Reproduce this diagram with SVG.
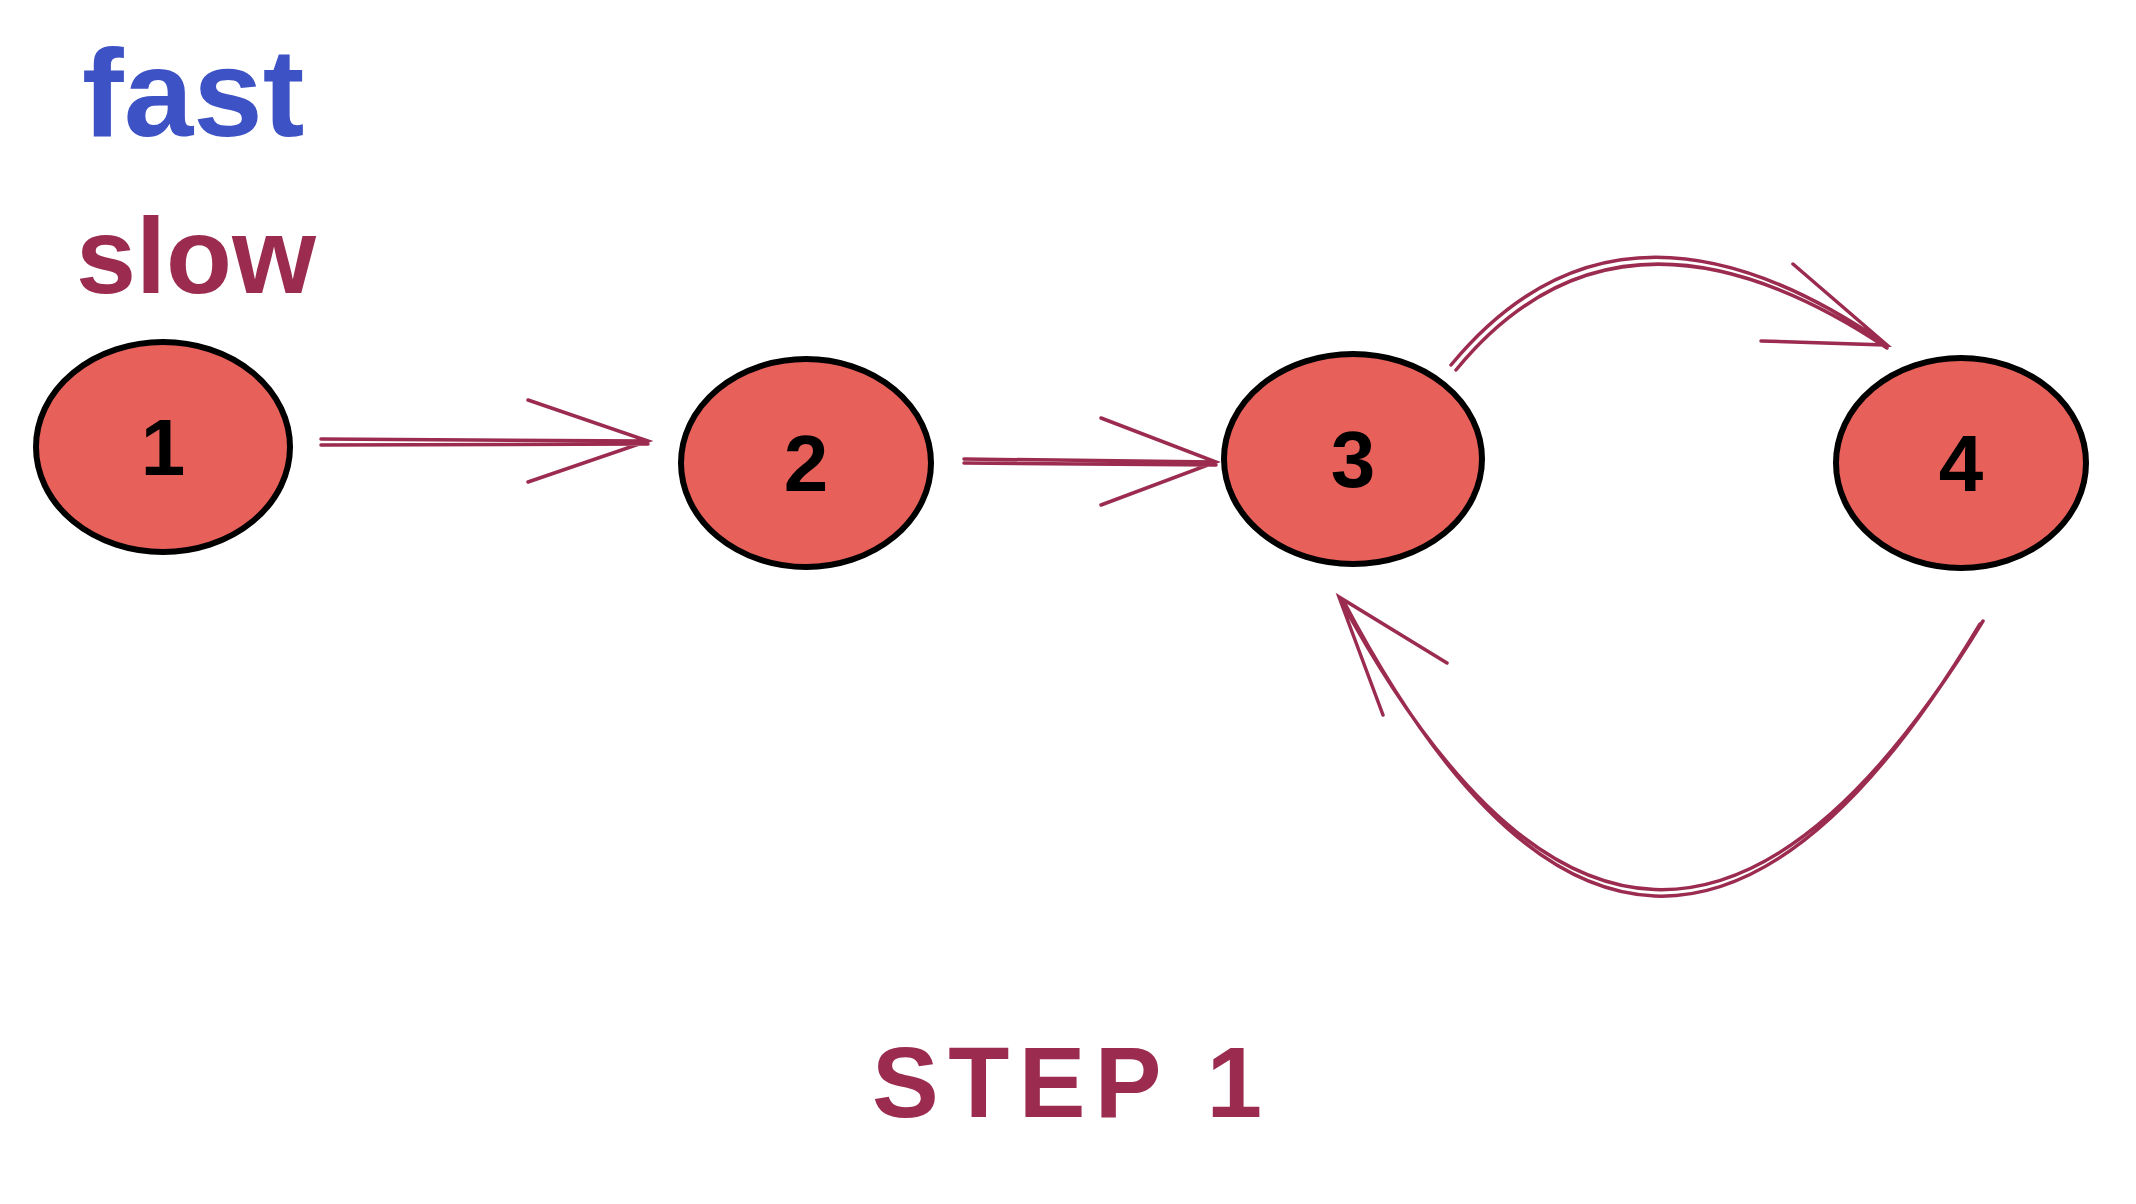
<svg xmlns="http://www.w3.org/2000/svg" width="2136" height="1204" viewBox="0 0 2136 1204">
<style>
.n{fill:#e8605a;stroke:#000;stroke-width:6}
.t{font-family:"Liberation Sans",sans-serif;font-size:80px;font-weight:bold;text-anchor:middle;fill:#000}
.c{fill:none;stroke:#9b2c50;stroke-width:3.5;stroke-linecap:round}
</style>
<rect width="2136" height="1204" fill="#fff"/>
<text x="82" y="136" font-family="Liberation Sans,sans-serif" font-size="125" font-weight="bold" fill="#3d52c4">fast</text>
<text x="76" y="293" font-family="Liberation Sans,sans-serif" font-size="108" font-weight="bold" fill="#9b2c50">slow</text>
<g id="n1"><ellipse class="n" cx="163" cy="447" rx="127" ry="105"/><text class="t" x="163" y="475">1</text></g>
<g id="n2"><ellipse class="n" cx="806" cy="463" rx="125" ry="104"/><text class="t" x="806" y="491">2</text></g>
<g id="n3"><ellipse class="n" cx="1353" cy="459" rx="129" ry="105"/><text class="t" x="1353" y="487">3</text></g>
<g id="n4"><ellipse class="n" cx="1961" cy="463" rx="125" ry="105"/><text class="t" x="1961" y="491">4</text></g>
<g id="connectors">
<path class="c" d="M321 439 L648 441 M321 445 L648 444 M528 400 L648 441 L528 482"/>
<path class="c" d="M964 459 L1216 462 M964 463 L1216 465 M1101 418 L1216 462 L1101 505"/>
<path class="c" d="M1451 365 Q1620 160 1887 345 M1456 370 Q1620 170 1887 348 M1793 264 L1887 345 L1761 341"/>
<path class="c" d="M1983 621 Q1648 1170 1339 597 M1980 624 Q1648 1180 1343 600 M1447 663 L1339 597 L1383 715"/>
</g>
<text x="872" y="1117" font-family="Liberation Sans,sans-serif" font-size="100" font-weight="bold" fill="#9b2c50" textLength="390">STEP 1</text>
</svg>
